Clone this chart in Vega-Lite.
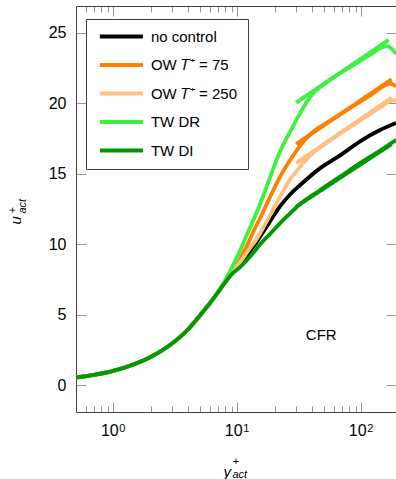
{
  "$schema": "https://vega.github.io/schema/vega-lite/v6.json",
  "width": 320,
  "height": 406,
  "autosize": {"type": "none"},
  "padding": {"left": 76, "top": 6, "right": 0, "bottom": 67},
  "config": {
    "view": {"stroke": null},
    "font": "Liberation Sans",
    "axis": {"grid": false, "domainColor": "#404040", "tickColor": "#969696", "labelFont": "Liberation Sans", "labelFontSize": 16, "labelColor": "#000000", "titleFont": "Liberation Sans", "titleFontWeight": "normal", "titleColor": "#000000"}
  },
  "datasets": {
    "curves": [
      {"s": "no control", "yp": 0.5, "u": 0.55}, {"s": "no control", "yp": 0.7, "u": 0.74}, {"s": "no control", "yp": 1, "u": 1.02}, {"s": "no control", "yp": 1.4, "u": 1.42}, {"s": "no control", "yp": 2, "u": 2.0}, {"s": "no control", "yp": 2.8, "u": 2.78}, {"s": "no control", "yp": 4, "u": 3.95}, {"s": "no control", "yp": 5, "u": 4.95}, {"s": "no control", "yp": 6, "u": 5.8}, {"s": "no control", "yp": 7, "u": 6.6},
      {"s": "no control", "yp": 8, "u": 7.3}, {"s": "no control", "yp": 9, "u": 7.9}, {"s": "no control", "yp": 10.6, "u": 8.65}, {"s": "no control", "yp": 12.5, "u": 9.45}, {"s": "no control", "yp": 14.8, "u": 10.35}, {"s": "no control", "yp": 17, "u": 11.15}, {"s": "no control", "yp": 19.6, "u": 12.0}, {"s": "no control", "yp": 22.2, "u": 12.7}, {"s": "no control", "yp": 26.8, "u": 13.55}, {"s": "no control", "yp": 32.2, "u": 14.2}, {"s": "no control", "yp": 46.7, "u": 15.4}, {"s": "no control", "yp": 67.6, "u": 16.3}, {"s": "no control", "yp": 98, "u": 17.3}, {"s": "no control", "yp": 142, "u": 18.1}, {"s": "no control", "yp": 191, "u": 18.6},

      {"s": "OW 𝑇⁺ = 75", "yp": 0.5, "u": 0.55}, {"s": "OW 𝑇⁺ = 75", "yp": 0.7, "u": 0.74}, {"s": "OW 𝑇⁺ = 75", "yp": 1, "u": 1.02}, {"s": "OW 𝑇⁺ = 75", "yp": 1.4, "u": 1.42}, {"s": "OW 𝑇⁺ = 75", "yp": 2, "u": 2.0}, {"s": "OW 𝑇⁺ = 75", "yp": 2.8, "u": 2.78}, {"s": "OW 𝑇⁺ = 75", "yp": 4, "u": 3.95}, {"s": "OW 𝑇⁺ = 75", "yp": 5, "u": 4.95}, {"s": "OW 𝑇⁺ = 75", "yp": 6, "u": 5.8}, {"s": "OW 𝑇⁺ = 75", "yp": 7, "u": 6.6},
      {"s": "OW 𝑇⁺ = 75", "yp": 8, "u": 7.35}, {"s": "OW 𝑇⁺ = 75", "yp": 9, "u": 8.05}, {"s": "OW 𝑇⁺ = 75", "yp": 10.6, "u": 9.0}, {"s": "OW 𝑇⁺ = 75", "yp": 12, "u": 9.9}, {"s": "OW 𝑇⁺ = 75", "yp": 13.5, "u": 10.9}, {"s": "OW 𝑇⁺ = 75", "yp": 16, "u": 12.2}, {"s": "OW 𝑇⁺ = 75", "yp": 18.5, "u": 13.4}, {"s": "OW 𝑇⁺ = 75", "yp": 22.2, "u": 14.8}, {"s": "OW 𝑇⁺ = 75", "yp": 26.8, "u": 16.0}, {"s": "OW 𝑇⁺ = 75", "yp": 32.2, "u": 17.0}, {"s": "OW 𝑇⁺ = 75", "yp": 38.8, "u": 17.8}, {"s": "OW 𝑇⁺ = 75", "yp": 56, "u": 18.75}, {"s": "OW 𝑇⁺ = 75", "yp": 81, "u": 19.65}, {"s": "OW 𝑇⁺ = 75", "yp": 118, "u": 20.55}, {"s": "OW 𝑇⁺ = 75", "yp": 151, "u": 21.2}, {"s": "OW 𝑇⁺ = 75", "yp": 171, "u": 21.4}, {"s": "OW 𝑇⁺ = 75", "yp": 191, "u": 21.2},

      {"s": "OW 𝑇⁺ = 250", "yp": 0.5, "u": 0.55}, {"s": "OW 𝑇⁺ = 250", "yp": 0.7, "u": 0.74}, {"s": "OW 𝑇⁺ = 250", "yp": 1, "u": 1.02}, {"s": "OW 𝑇⁺ = 250", "yp": 1.4, "u": 1.42}, {"s": "OW 𝑇⁺ = 250", "yp": 2, "u": 2.0}, {"s": "OW 𝑇⁺ = 250", "yp": 2.8, "u": 2.78}, {"s": "OW 𝑇⁺ = 250", "yp": 4, "u": 3.95}, {"s": "OW 𝑇⁺ = 250", "yp": 5, "u": 4.95}, {"s": "OW 𝑇⁺ = 250", "yp": 6, "u": 5.8}, {"s": "OW 𝑇⁺ = 250", "yp": 7, "u": 6.6},
      {"s": "OW 𝑇⁺ = 250", "yp": 8, "u": 7.3}, {"s": "OW 𝑇⁺ = 250", "yp": 9, "u": 7.95}, {"s": "OW 𝑇⁺ = 250", "yp": 10.6, "u": 8.75}, {"s": "OW 𝑇⁺ = 250", "yp": 12.5, "u": 9.65}, {"s": "OW 𝑇⁺ = 250", "yp": 14.4, "u": 10.4}, {"s": "OW 𝑇⁺ = 250", "yp": 16.5, "u": 11.3}, {"s": "OW 𝑇⁺ = 250", "yp": 18.5, "u": 12.1}, {"s": "OW 𝑇⁺ = 250", "yp": 22.2, "u": 13.4}, {"s": "OW 𝑇⁺ = 250", "yp": 26.8, "u": 14.6}, {"s": "OW 𝑇⁺ = 250", "yp": 32.2, "u": 15.5}, {"s": "OW 𝑇⁺ = 250", "yp": 38.8, "u": 16.3}, {"s": "OW 𝑇⁺ = 250", "yp": 56, "u": 17.35}, {"s": "OW 𝑇⁺ = 250", "yp": 81, "u": 18.3}, {"s": "OW 𝑇⁺ = 250", "yp": 118, "u": 19.25}, {"s": "OW 𝑇⁺ = 250", "yp": 151, "u": 19.85}, {"s": "OW 𝑇⁺ = 250", "yp": 171, "u": 20.15}, {"s": "OW 𝑇⁺ = 250", "yp": 191, "u": 20.2},

      {"s": "TW DR", "yp": 0.5, "u": 0.55}, {"s": "TW DR", "yp": 0.7, "u": 0.74}, {"s": "TW DR", "yp": 1, "u": 1.02}, {"s": "TW DR", "yp": 1.4, "u": 1.42}, {"s": "TW DR", "yp": 2, "u": 2.0}, {"s": "TW DR", "yp": 2.8, "u": 2.78}, {"s": "TW DR", "yp": 4, "u": 3.95}, {"s": "TW DR", "yp": 5, "u": 4.95}, {"s": "TW DR", "yp": 6, "u": 5.8}, {"s": "TW DR", "yp": 7, "u": 6.6},
      {"s": "TW DR", "yp": 8, "u": 7.45}, {"s": "TW DR", "yp": 9, "u": 8.3}, {"s": "TW DR", "yp": 10.6, "u": 9.6}, {"s": "TW DR", "yp": 12, "u": 10.7}, {"s": "TW DR", "yp": 13.5, "u": 11.7}, {"s": "TW DR", "yp": 16, "u": 13.3}, {"s": "TW DR", "yp": 18.5, "u": 14.8}, {"s": "TW DR", "yp": 22.2, "u": 16.6}, {"s": "TW DR", "yp": 26.8, "u": 18.0}, {"s": "TW DR", "yp": 32.2, "u": 19.3}, {"s": "TW DR", "yp": 38.8, "u": 20.45}, {"s": "TW DR", "yp": 56, "u": 21.65}, {"s": "TW DR", "yp": 81, "u": 22.55}, {"s": "TW DR", "yp": 118, "u": 23.45}, {"s": "TW DR", "yp": 142, "u": 23.9}, {"s": "TW DR", "yp": 160, "u": 24.05}, {"s": "TW DR", "yp": 178, "u": 23.85}, {"s": "TW DR", "yp": 191, "u": 23.5},

      {"s": "TW DI", "yp": 0.5, "u": 0.55}, {"s": "TW DI", "yp": 0.7, "u": 0.74}, {"s": "TW DI", "yp": 1, "u": 1.02}, {"s": "TW DI", "yp": 1.4, "u": 1.42}, {"s": "TW DI", "yp": 2, "u": 2.0}, {"s": "TW DI", "yp": 2.8, "u": 2.78}, {"s": "TW DI", "yp": 4, "u": 3.95}, {"s": "TW DI", "yp": 5, "u": 4.95}, {"s": "TW DI", "yp": 6, "u": 5.8}, {"s": "TW DI", "yp": 7, "u": 6.6},
      {"s": "TW DI", "yp": 8, "u": 7.3}, {"s": "TW DI", "yp": 9, "u": 7.85}, {"s": "TW DI", "yp": 10.6, "u": 8.4}, {"s": "TW DI", "yp": 13.5, "u": 9.4}, {"s": "TW DI", "yp": 15.3, "u": 10.0}, {"s": "TW DI", "yp": 18.5, "u": 10.75}, {"s": "TW DI", "yp": 22.2, "u": 11.5}, {"s": "TW DI", "yp": 26.8, "u": 12.2}, {"s": "TW DI", "yp": 32.2, "u": 12.85}, {"s": "TW DI", "yp": 46.7, "u": 13.85}, {"s": "TW DI", "yp": 67.6, "u": 14.8}, {"s": "TW DI", "yp": 98, "u": 15.75}, {"s": "TW DI", "yp": 142, "u": 16.65}, {"s": "TW DI", "yp": 191, "u": 17.4}
    ],
    "loglaw": [
      {"s": "OW 𝑇⁺ = 75", "yp": 29.9, "u": 17.1}, {"s": "OW 𝑇⁺ = 75", "yp": 176, "u": 21.7},
      {"s": "OW 𝑇⁺ = 250", "yp": 29.9, "u": 15.75}, {"s": "OW 𝑇⁺ = 250", "yp": 177, "u": 20.4},
      {"s": "TW DR", "yp": 29.9, "u": 20.05}, {"s": "TW DR", "yp": 167, "u": 24.5},
      {"s": "TW DI", "yp": 29.9, "u": 12.66}, {"s": "TW DI", "yp": 176, "u": 17.1}
    ],
    "ann": [{"yp": 47.6, "u": 3.55, "label": "CFR"}]
  },
  "layer": [
    {
      "data": {"name": "curves"},
      "mark": {"type": "line", "strokeWidth": 3.8, "interpolate": "monotone", "clip": true},
      "encoding": {
        "x": {"field": "yp", "type": "quantitative",
          "scale": {"type": "log", "domain": [0.5, 191], "nice": false},
          "axis": {"orient": "bottom", "values": [0.6,0.7,0.8,0.9,1,2,3,4,5,6,7,8,9,10,20,30,40,50,60,70,80,90,100],
            "labelExpr": "datum.value==1||datum.value==10||datum.value==100?'10':''",
            "tickSize": {"condition": {"test": "datum.value==1||datum.value==10||datum.value==100", "value": -10}, "value": -6},
            "labelPadding": 20, "labelOffset": -4, "labelFlush": false, "labelOverlap": false,
            "title": "y", "titleFontStyle": "italic", "titleFontSize": 15, "titleX": 147, "titleY": 64, "titleAlign": "left", "titleBaseline": "alphabetic"}},
        "y": {"field": "u", "type": "quantitative",
          "scale": {"domain": [-1.9, 26.9], "nice": false, "zero": false},
          "axis": {"orient": "left", "values": [0,5,10,15,20,25], "tickSize": -10, "labelPadding": 20,
            "title": "u", "titleFontStyle": "italic", "titleFontSize": 15, "titleAngle": 270, "titleX": -56, "titleY": 218, "titleAlign": "left", "titleBaseline": "alphabetic"}},
        "color": {"field": "s", "type": "nominal",
          "scale": {"domain": ["no control", "OW 𝑇⁺ = 75", "OW 𝑇⁺ = 250", "TW DR", "TW DI"], "range": ["#000000", "#ff8000", "#ffbf80", "#40f040", "#009900"]},
          "legend": {"orient": "none", "legendX": 10, "legendY": 13, "title": null, "symbolType": "M-6,0H6", "symbolStrokeWidth": 4, "symbolSize": 51.4, "symbolOffset": 17.9, "rowPadding": 11.5,
            "labelFont": "Liberation Sans", "labelFontSize": 15, "labelColor": "#000000", "strokeColor": "#404040", "fillColor": "#ffffff", "padding": 10, "labelOffset": 22, "labelLimit": 300}}
      }
    },
    {
      "data": {"name": "loglaw"},
      "mark": {"type": "line", "strokeWidth": 3.8, "clip": true},
      "encoding": {
        "x": {"field": "yp", "type": "quantitative",
          "axis": {"orient": "top", "values": [0.6,0.7,0.8,0.9,1,2,3,4,5,6,7,8,9,10,20,30,40,50,60,70,80,90,100],
            "labelExpr": "datum.value==1?'0':datum.value==10?'1':datum.value==100?'2':''",
            "labelFontSize": 11, "labelAlign": "left", "labelBaseline": "alphabetic", "labelOffset": 5.5, "labelPadding": -415, "labelFlush": false, "labelOverlap": false, "labelBound": false,
            "tickSize": {"condition": {"test": "datum.value==1||datum.value==10||datum.value==100", "value": -10}, "value": -6},
            "title": ["+", "act"], "titleFontStyle": "italic", "titleFontSize": 11, "titleLineHeight": 12.5, "titleX": 156, "titleY": 458.5, "titleAlign": "left", "titleBaseline": "alphabetic"}},
        "y": {"field": "u", "type": "quantitative",
          "axis": {"orient": "right", "values": [0,5,10,15,20,25], "labels": false, "tickSize": -10,
            "title": ["+", "act"], "titleFontStyle": "italic", "titleFontSize": 11, "titleLineHeight": 10, "titleAngle": 270, "titleX": -380.5, "titleY": 207, "titleAlign": "left", "titleBaseline": "alphabetic"}},
        "color": {"field": "s", "type": "nominal"}
      }
    },
    {
      "data": {"name": "ann"},
      "mark": {"type": "text", "fontSize": 15, "font": "Liberation Sans", "color": "#000000", "align": "center", "baseline": "middle"},
      "encoding": {
        "x": {"field": "yp", "type": "quantitative", "axis": null},
        "y": {"field": "u", "type": "quantitative", "axis": null},
        "text": {"field": "label"}
      }
    }
  ],
  "resolve": {"axis": {"x": "independent", "y": "independent"}}
}
